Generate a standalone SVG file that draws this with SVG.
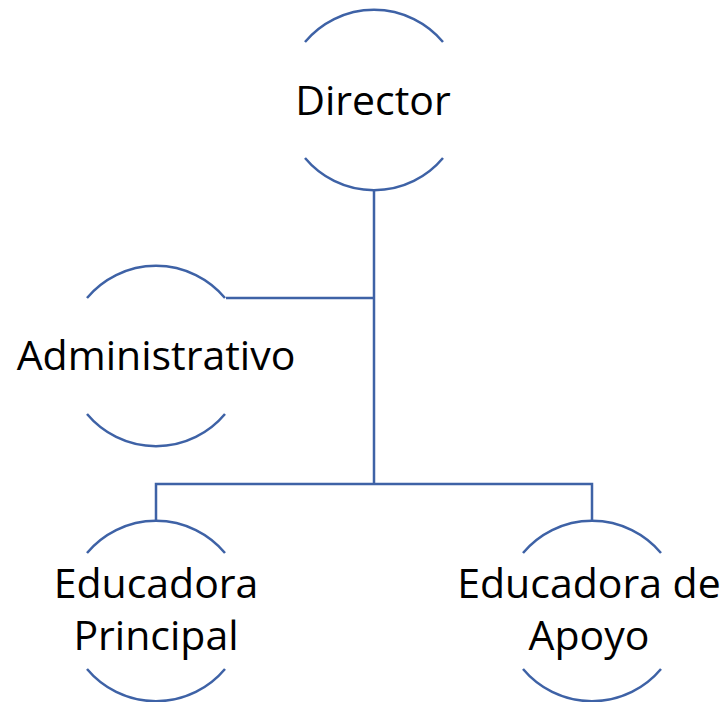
<svg xmlns="http://www.w3.org/2000/svg" width="726" height="702" viewBox="0 0 726 702">
<style>
.arc{fill:none;stroke:#3E62A6;stroke-width:2.5}
.con{fill:none;stroke:#3E62A6;stroke-width:2.5}
.t{font-family:"Open Sans","Liberation Sans",sans-serif;font-size:41px;fill:#000;text-anchor:middle}
</style>
<rect width="726" height="702" fill="#fff"/>
<g id="connectors">
<path class="con" d="M374 190 V484 M156 522 V484 H592 V522 M226 298 H374"/>
</g>
<g id="director">
<path class="arc" d="M305 42 A90 90 0 0 1 443 42 M305 158 A90 90 0 0 0 443 158"/>
<text class="t" x="373" y="115">Director</text>
</g>
<g id="administrativo">
<path class="arc" d="M87 298 A90 90 0 0 1 225 298 M87 414 A90 90 0 0 0 225 414"/>
<text class="t" x="156" y="370">Administrativo</text>
</g>
<g id="educadora-principal">
<path class="arc" d="M87 553 A90 90 0 0 1 225 553 M87 669 A90 90 0 0 0 225 669"/>
<text class="t" x="156" y="598">Educadora</text>
<text class="t" x="156" y="650">Principal</text>
</g>
<g id="educadora-apoyo">
<path class="arc" d="M523 553 A90 90 0 0 1 661 553 M523 669 A90 90 0 0 0 661 669"/>
<text class="t" x="589" y="598">Educadora de</text>
<text class="t" x="589" y="650">Apoyo</text>
</g>
</svg>
